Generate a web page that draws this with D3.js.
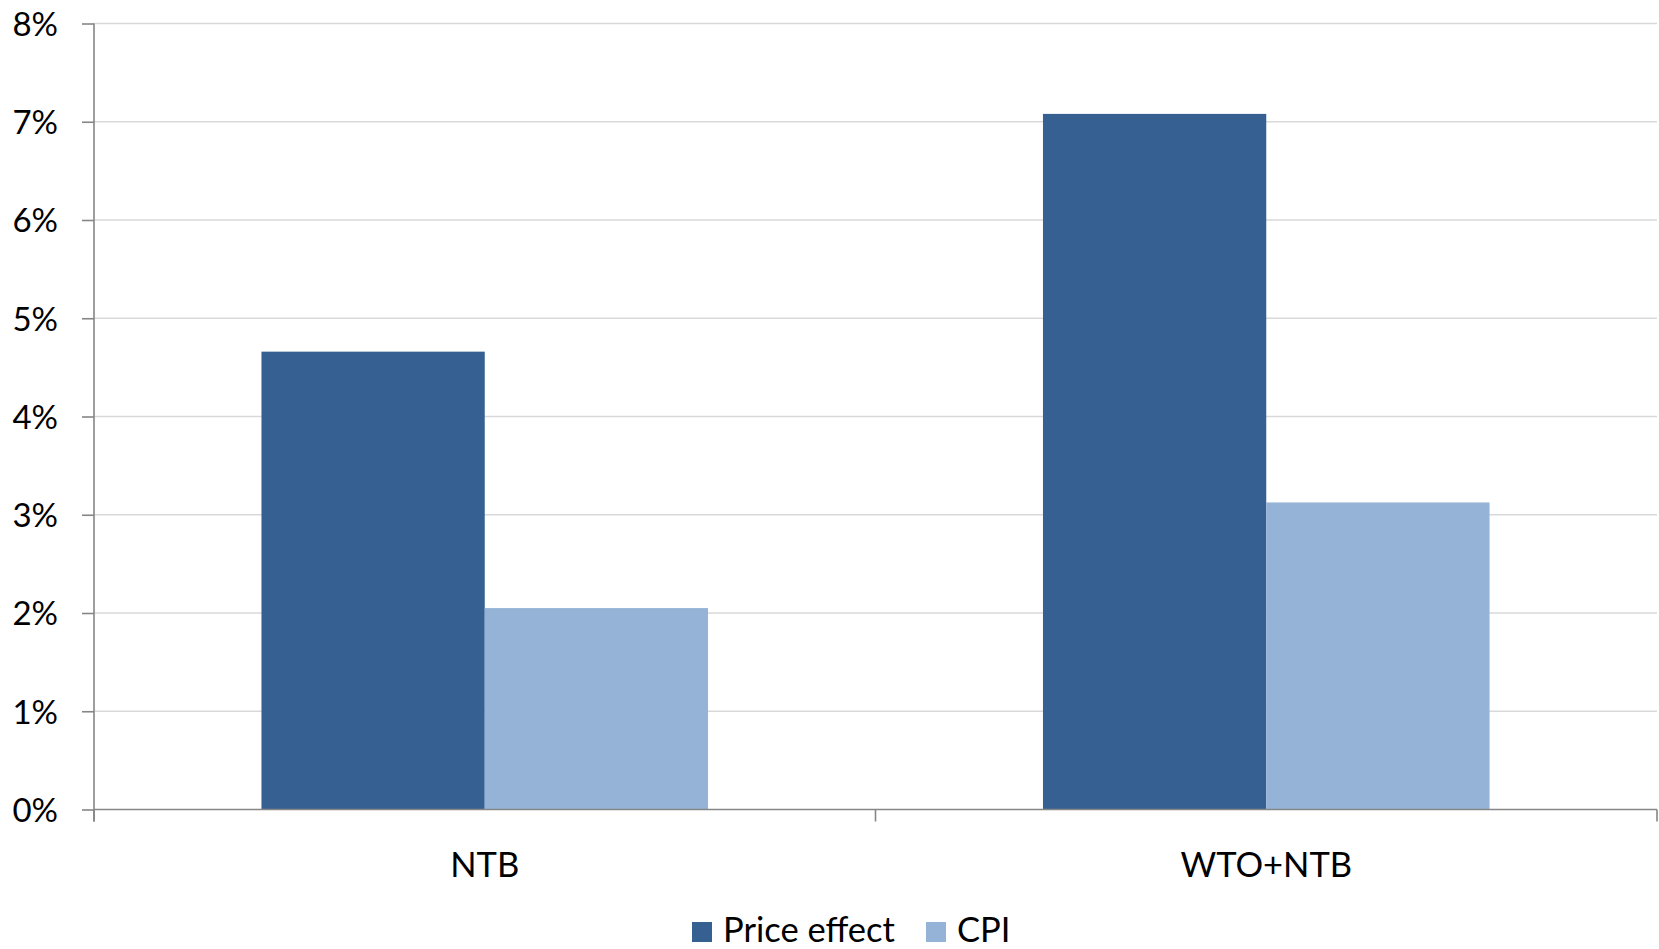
<!DOCTYPE html>
<html>
<head>
<meta charset="utf-8">
<script src="https://cdn.jsdelivr.net/npm/d3@7"></script>
<style>
  html, body { margin: 0; padding: 0; background: #fff; }
  svg { display: block; }
  text { font-family: Lato, "Open Sans", sans-serif; fill: #000; }
</style>
</head>
<body>
<svg id="chart" width="1659" height="949"></svg>
<script>
// Chart data
const categories = ["NTB", "WTO+NTB"];
const seriesNames = ["Price effect", "CPI"];
const priceEffect = [4.66, 7.08];
const cpi = [2.05, 3.125];
const yTicks = [0, 1, 2, 3, 4, 5, 6, 7, 8];
const seriesColors = ["#366092", "#95B3D7"];

const rows = categories.map((c, i) => ({ category: c, values: [priceEffect[i], cpi[i]] }));

const svg = d3.select("#chart");
const margin = { left: 94, right: 2, top: 23.5, bottom: 139.5 };
const W = 1659, H = 949;
const plotW = W - margin.left - margin.right;
const plotH = H - margin.top - margin.bottom;

const g = svg.append("g").attr("transform", `translate(${margin.left},${margin.top})`);

const x0 = d3.scaleBand().domain(categories).range([0, plotW]).padding(0);
const x1 = d3.scaleBand().domain([0, 1]).range([0, x0.bandwidth()]).paddingInner(0).paddingOuter(0.75);
const y = d3.scaleLinear().domain([0, 8]).range([plotH, 0]);

// Horizontal gridlines
g.append("g")
  .selectAll("line")
  .data(yTicks.filter(d => d > 0))
  .join("line")
  .attr("x1", 0).attr("x2", plotW)
  .attr("y1", d => y(d)).attr("y2", d => y(d))
  .attr("stroke", "#D9D9D9").attr("stroke-width", 1.4);

// Bars
g.append("g")
  .selectAll("g")
  .data(rows)
  .join("g")
  .attr("transform", d => `translate(${x0(d.category)},0)`)
  .selectAll("rect")
  .data(d => d.values.map((v, i) => ({ v, i })))
  .join("rect")
  .attr("x", d => x1(d.i))
  .attr("width", x1.bandwidth())
  .attr("y", d => y(d.v))
  .attr("height", d => y(0) - y(d.v))
  .attr("fill", d => seriesColors[d.i]);

// Y axis
const yAxis = d3.axisLeft(y).tickValues(yTicks).tickSize(12).tickPadding(24)
  .tickFormat(d => d + "%");
const yg = g.append("g").call(yAxis);
yg.select(".domain").attr("stroke", "#868686").attr("stroke-width", 1.6)
  .attr("d", `M0,${y(8)}V${plotH + 12}`);
yg.selectAll(".tick line").attr("stroke", "#868686").attr("stroke-width", 1.6);
yg.selectAll(".tick text")
  .attr("font-size", 33)
  .attr("font-family", "Lato, 'Open Sans', sans-serif")
  .attr("fill", "#000")
  .attr("dy", "0.36em");

// X axis (category boundaries as ticks)
const xb = g.append("g").attr("transform", `translate(0,${plotH})`);
xb.append("line").attr("x1", 0).attr("x2", plotW).attr("y1", 0).attr("y2", 0)
  .attr("stroke", "#868686").attr("stroke-width", 1.6);
const boundaries = [0, ...categories.map(c => x0(c) + x0.bandwidth())];
xb.selectAll("line.tk").data(boundaries).join("line").attr("class", "tk")
  .attr("x1", d => d).attr("x2", d => d).attr("y1", 0).attr("y2", 12)
  .attr("stroke", "#868686").attr("stroke-width", 1.6);
xb.selectAll("text").data(categories).join("text")
  .attr("x", d => x0(d) + x0.bandwidth() / 2)
  .attr("y", 67)
  .attr("text-anchor", "middle")
  .attr("font-size", 34.5)
  .text(d => d);

// Legend
const legend = svg.append("g").attr("transform", "translate(692,922)");
const legendX = [0, 234];
const item = legend.selectAll("g").data(seriesNames).join("g")
  .attr("transform", (d, i) => `translate(${legendX[i]},0)`);
item.append("rect").attr("width", 20).attr("height", 20).attr("fill", (d, i) => seriesColors[i]);
item.append("text").attr("x", 31).attr("y", 20).attr("font-size", 34.5).text(d => d);
</script>
</body>
</html>
